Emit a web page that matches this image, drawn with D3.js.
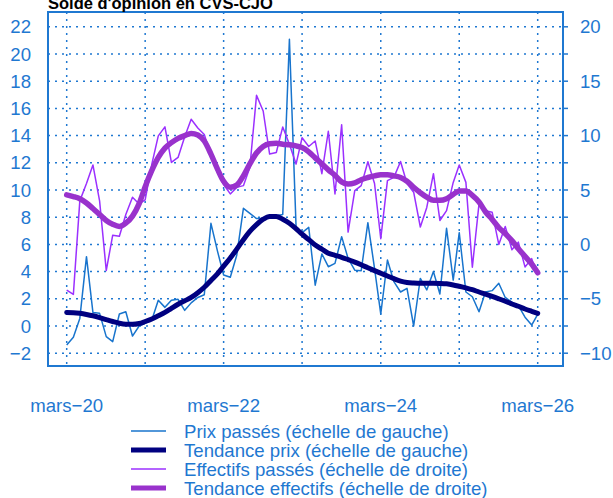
<!DOCTYPE html>
<html><head><meta charset="utf-8">
<script src="https://cdn.jsdelivr.net/npm/d3@7"></script>
<style>body{margin:0;background:#fff}svg{display:block}text{font-family:"Liberation Sans",Arial,sans-serif}</style>
</head><body><svg id="c" width="613" height="498"></svg>
<script>
const title = "Solde d'opinion en CVS-CJO";
const startMonth = [2020, 2]; // mars 2020
const xTickYears = [2020, 2022, 2024, 2026];
const gridYears = [2020, 2021, 2022, 2023, 2024, 2025, 2026];
const leftTicks = [-2,0,2,4,6,8,10,12,14,16,18,20,22];
const rightTicks = [-10,-5,0,5,10,15,20];
const rightMinor = [-10,-7.5,-5,-2.5,0,2.5,5,7.5,10,12.5,15,17.5,20];
const legendLabels = ["Prix passés (échelle de gauche)","Tendance prix (échelle de gauche)","Effectifs passés (échelle de droite)","Tendance effectifs (échelle de droite)"];

const prixPasses = [-1.4,-0.83,0.56,5.1,1.0,0.93,-0.78,-1.15,0.88,1.05,-0.74,0.0,0.2,0.44,1.9,1.37,1.9,1.96,1.15,1.7,2.1,2.3,7.55,5.47,3.75,3.58,5.2,8.65,8.28,7.9,7.9,8.0,8.1,8.2,21.08,7.3,6.86,7.25,3.0,5.3,4.36,4.6,6.57,4.97,4.1,4.07,7.6,4.24,0.88,4.85,3.26,2.5,2.77,0.0,3.5,2.65,4.0,2.35,7.18,3.38,6.86,2.5,2.15,1.05,2.5,2.6,3.14,2.1,1.75,1.5,0.65,0.07,0.85];
const tendancePrix = [1.0,0.98,0.93,0.85,0.75,0.62,0.47,0.33,0.2,0.13,0.12,0.18,0.33,0.52,0.75,1.0,1.3,1.6,1.85,2.1,2.45,2.85,3.35,3.85,4.4,5.0,5.65,6.35,6.95,7.45,7.85,8.05,8.05,7.85,7.55,7.15,6.75,6.35,5.95,5.65,5.35,5.2,5.05,4.88,4.7,4.5,4.28,4.07,3.88,3.68,3.48,3.3,3.2,3.16,3.14,3.14,3.14,3.13,3.1,3.02,2.92,2.8,2.67,2.5,2.35,2.18,2.0,1.82,1.62,1.45,1.25,1.08,0.93];
const effectifsPasses = [-4.2,-4.6,4.0,5.6,7.3,4.0,-2.4,0.85,0.75,2.75,4.33,3.72,4.1,7.38,9.97,10.8,7.53,7.99,9.9,11.5,10.7,10.1,8.2,6.6,5.5,4.64,5.24,5.4,7.07,13.7,12.26,8.3,8.45,10.8,9.2,7.38,9.8,9.0,9.5,6.5,10.4,4.64,11.0,1.13,4.94,5.4,7.6,5.6,0.52,5.86,6.16,7.62,5.6,4.8,1.6,3.4,6.5,2.2,3.1,5.7,7.3,5.7,-2.1,3.72,3.1,2.96,0.0,1.65,-0.49,0.21,-2.07,-1.31,-2.84];
const tendanceEffectifs = [4.55,4.4,4.2,3.8,3.3,2.75,2.2,1.85,1.65,1.95,2.6,3.75,5.3,6.8,8.0,8.85,9.35,9.75,10.0,10.2,10.05,9.5,8.3,6.9,5.8,5.25,5.45,6.3,7.4,8.4,9.0,9.25,9.3,9.2,9.15,9.05,8.9,8.5,7.95,7.4,6.85,6.35,5.75,5.55,5.65,5.95,6.15,6.3,6.4,6.4,6.3,6.15,5.8,5.25,4.75,4.35,4.05,4.05,4.2,4.6,4.9,4.9,4.5,3.9,3.0,2.3,1.55,1.0,0.35,-0.4,-1.1,-1.8,-2.6];

const blue = "#1f78d1", lineBlue = "#1874cd", navy = "#000080", violet = "#9b30ff", orchid = "#9932cc";
const box = {l:48, r:563, t:12, b:366};
const dates = prixPasses.map((_, i) => new Date(startMonth[0], startMonth[1] + i, 1));
const x = d3.scaleTime().domain([new Date(2020,2,1), new Date(2026,2,1)]).range([66.7, 537.7]);
const yL = d3.scaleLinear().domain([0, 22]).range([326, 26.8]);
const yR = d3.scaleLinear().domain([-10, 20]).range([yL(-2), yL(22)]);

const svg = d3.select("#c");
const dotted = "2,5";

// grid
const g = svg.append("g");
g.selectAll(".hg").data(leftTicks).join("line")
  .attr("x1", box.l).attr("x2", box.r).attr("y1", d => yL(d)).attr("y2", d => yL(d))
  .attr("stroke", blue).attr("stroke-width", 1.5).attr("stroke-dasharray", dotted);
g.selectAll(".vg").data(gridYears).join("line")
  .attr("x1", d => x(new Date(d,2,1))).attr("x2", d => x(new Date(d,2,1)))
  .attr("y1", box.t).attr("y2", box.b)
  .attr("stroke", blue).attr("stroke-width", 1.5).attr("stroke-dasharray", dotted);

// series
svg.append("clipPath").attr("id","clp").append("rect")
  .attr("x", box.l).attr("y", box.t).attr("width", box.r-box.l).attr("height", box.b-box.t);
const series = svg.append("g").attr("clip-path","url(#clp)");
const lineL = d3.line().x((d,i) => x(dates[i])).y(d => yL(d));
const lineR = d3.line().x((d,i) => x(dates[i])).y(d => yR(d));
const lineLs = d3.line().x((d,i) => x(dates[i])).y(d => yL(d)).curve(d3.curveMonotoneX);
const lineRs = d3.line().x((d,i) => x(dates[i])).y(d => yR(d)).curve(d3.curveMonotoneX);
series.append("path").attr("d", lineL(prixPasses)).attr("fill","none").attr("stroke", lineBlue).attr("stroke-width",1.5).attr("stroke-linejoin","round");
series.append("path").attr("d", lineLs(tendancePrix)).attr("fill","none").attr("stroke", navy).attr("stroke-width",5).attr("stroke-linecap","round");
series.append("path").attr("d", lineR(effectifsPasses)).attr("fill","none").attr("stroke", violet).attr("stroke-width",1.5).attr("stroke-linejoin","round");
series.append("path").attr("d", lineRs(tendanceEffectifs)).attr("fill","none").attr("stroke", orchid).attr("stroke-width",5.5).attr("stroke-linecap","round");

// frame
svg.append("rect").attr("x", box.l).attr("y", box.t).attr("width", box.r-box.l).attr("height", box.b-box.t)
  .attr("fill","none").attr("stroke", blue).attr("stroke-width", 2);

// left axis labels
const fs = 18.6;
svg.append("g").selectAll("text").data(leftTicks).join("text")
  .attr("x", 31).attr("y", d => yL(d)).attr("dy","0.36em").attr("text-anchor","end")
  .attr("fill", blue).attr("font-size", fs).text(d => d < 0 ? "\u2212" + Math.abs(d) : d);
// right ticks + labels
svg.append("g").selectAll("line").data(rightMinor).join("line")
  .attr("x1", box.r).attr("x2", box.r + 5).attr("y1", d => yR(d)).attr("y2", d => yR(d))
  .attr("stroke", blue).attr("stroke-width", 1.5);
svg.append("g").selectAll("text").data(rightTicks).join("text")
  .attr("x", 580).attr("y", d => yR(d)).attr("dy","0.36em").attr("text-anchor","start")
  .attr("fill", blue).attr("font-size", fs).text(d => d < 0 ? "\u2212" + Math.abs(d) : d);
// x labels
svg.append("g").selectAll("text").data(xTickYears).join("text")
  .attr("x", d => x(new Date(d,2,1))).attr("y", 405).attr("dy","0.36em").attr("text-anchor","middle")
  .attr("fill", blue).attr("font-size", fs).text(d => "mars\u2212" + String(d).slice(2));

// title (partly above the page, as in the reference)
svg.append("text").attr("x", 48).attr("y", 8.5).attr("font-size", 16.5).attr("font-weight","bold")
  .attr("fill","#000").text(title);

// legend
const legStyles = [{c:lineBlue,w:1.5},{c:navy,w:5},{c:violet,w:1.5},{c:orchid,w:5}];
const legY = [431, 450, 469, 488];
const lg = svg.append("g");
legendLabels.forEach((t, i) => {
  lg.append("line").attr("x1", 131).attr("x2", 166).attr("y1", legY[i]).attr("y2", legY[i])
    .attr("stroke", legStyles[i].c).attr("stroke-width", legStyles[i].w);
  lg.append("text").attr("x", 184).attr("y", legY[i]).attr("dy","0.36em")
    .attr("fill", blue).attr("font-size", fs).text(t);
});
</script></body></html>
